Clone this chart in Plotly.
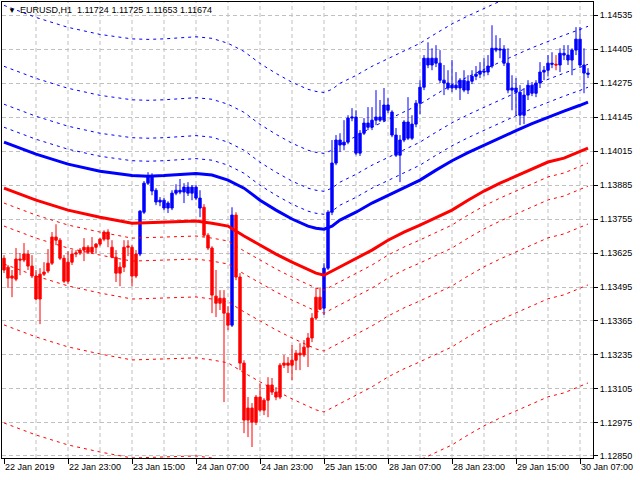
import plotly.graph_objects as go

# ---------------- data ----------------
BARS = list(range(147))

OPEN = [1.13605, 1.13571, 1.13529, 1.13525, 1.13602, 1.13598, 1.13621, 1.13575, 1.13537, 1.13449,
        1.13544, 1.13556, 1.13586, 1.13686, 1.13674, 1.13605, 1.13517, 1.13590, 1.13621, 1.13625,
        1.13636, 1.13647, 1.13628, 1.13647, 1.13659, 1.13678, 1.13705, 1.13647, 1.13609, 1.13548,
        1.13571, 1.13647, 1.13647, 1.13537, 1.13621, 1.13781, 1.13892, 1.13919, 1.13865, 1.13820,
        1.13827, 1.13797, 1.13797, 1.13854, 1.13865, 1.13858, 1.13877, 1.13854, 1.13877, 1.13835,
        1.13800, 1.13693, 1.13644, 1.13460, 1.13433, 1.13452, 1.13395, 1.13349, 1.13770, 1.13533,
        1.13204, 1.12986, 1.13032, 1.12978, 1.13074, 1.13024, 1.13062, 1.13120, 1.13093, 1.13074,
        1.13196, 1.13204, 1.13196, 1.13215, 1.13242, 1.13235, 1.13265, 1.13300, 1.13376, 1.13456,
        1.13414, 1.13567, 1.13781, 1.13969, 1.14057, 1.14038, 1.14049, 1.14141, 1.14145, 1.14007,
        1.14083, 1.14122, 1.14106, 1.14133, 1.14145, 1.14133, 1.14191, 1.14164, 1.14076, 1.13999,
        1.14057, 1.14126, 1.14064, 1.14118, 1.14198, 1.14259, 1.14370, 1.14344, 1.14370, 1.14351,
        1.14286, 1.14275, 1.14256, 1.14267, 1.14256, 1.14286, 1.14248, 1.14282, 1.14301, 1.14309,
        1.14321, 1.14317, 1.14340, 1.14408, 1.14401, 1.14405, 1.14351, 1.14248, 1.14256, 1.14240,
        1.14152, 1.14229, 1.14267, 1.14236, 1.14275, 1.14317, 1.14324, 1.14351, 1.14347, 1.14344,
        1.14389, 1.14382, 1.14363, 1.14401, 1.14443, 1.14344, 1.14313]

HIGH = [1.13617, 1.13579, 1.13560, 1.13644, 1.13625, 1.13663, 1.13636, 1.13617, 1.13560, 1.13567,
        1.13590, 1.13640, 1.13705, 1.13735, 1.13682, 1.13617, 1.13632, 1.13636, 1.13636, 1.13644,
        1.13682, 1.13655, 1.13686, 1.13663, 1.13682, 1.13712, 1.13716, 1.13674, 1.13636, 1.13590,
        1.13674, 1.13674, 1.13655, 1.13636, 1.13789, 1.13900, 1.13934, 1.13930, 1.13873, 1.13839,
        1.13835, 1.13823, 1.13865, 1.13888, 1.13908, 1.13892, 1.13896, 1.13885, 1.13885, 1.13865,
        1.13812, 1.13701, 1.13651, 1.13560, 1.13483, 1.13483, 1.13422, 1.13800, 1.13781, 1.13548,
        1.13215, 1.13074, 1.13051, 1.13082, 1.13127, 1.13070, 1.13150, 1.13147, 1.13112, 1.13204,
        1.13235, 1.13227, 1.13273, 1.13254, 1.13280, 1.13292, 1.13319, 1.13395, 1.13491, 1.13491,
        1.13586, 1.13789, 1.14057, 1.14076, 1.14083, 1.14133, 1.14152, 1.14179, 1.14171, 1.14095,
        1.14141, 1.14183, 1.14183, 1.14248, 1.14210, 1.14256, 1.14217, 1.14171, 1.14103, 1.14076,
        1.14133, 1.14221, 1.14152, 1.14210, 1.14286, 1.14382, 1.14431, 1.14408, 1.14420, 1.14401,
        1.14344, 1.14324, 1.14363, 1.14317, 1.14294, 1.14324, 1.14305, 1.14324, 1.14340, 1.14355,
        1.14370, 1.14382, 1.14496, 1.14458, 1.14447, 1.14420, 1.14408, 1.14305, 1.14294, 1.14267,
        1.14256, 1.14286, 1.14279, 1.14286, 1.14355, 1.14340, 1.14382, 1.14393, 1.14382, 1.14408,
        1.14420, 1.14420, 1.14408, 1.14489, 1.14489, 1.14408, 1.14332]

LOW = [1.13548, 1.13491, 1.13456, 1.13517, 1.13540, 1.13590, 1.13560, 1.13529, 1.13445, 1.13353,
       1.13537, 1.13548, 1.13579, 1.13655, 1.13598, 1.13510, 1.13506, 1.13579, 1.13609, 1.13617,
       1.13594, 1.13621, 1.13621, 1.13625, 1.13651, 1.13670, 1.13647, 1.13605, 1.13514, 1.13498,
       1.13552, 1.13613, 1.13498, 1.13529, 1.13613, 1.13774, 1.13885, 1.13846, 1.13808, 1.13804,
       1.13789, 1.13778, 1.13789, 1.13846, 1.13850, 1.13816, 1.13843, 1.13827, 1.13827, 1.13762,
       1.13686, 1.13636, 1.13395, 1.13380, 1.13407, 1.13055, 1.13330, 1.13342, 1.13521, 1.13177,
       1.12936, 1.12921, 1.12883, 1.12967, 1.13017, 1.13005, 1.12997, 1.13082, 1.13062, 1.13066,
       1.13185, 1.13166, 1.13139, 1.13177, 1.13177, 1.13227, 1.13189, 1.13284, 1.13368, 1.13407,
       1.13388, 1.13560, 1.13770, 1.13961, 1.14011, 1.14018, 1.14041, 1.14129, 1.13999, 1.13996,
       1.14076, 1.14095, 1.14095, 1.14114, 1.14126, 1.14126, 1.14160, 1.14068, 1.13992, 1.13896,
       1.14049, 1.14057, 1.14057, 1.14106, 1.14156, 1.14248, 1.14332, 1.14324, 1.14336, 1.14275,
       1.14229, 1.14248, 1.14240, 1.14248, 1.14210, 1.14240, 1.14233, 1.14271, 1.14286, 1.14294,
       1.14301, 1.14305, 1.14332, 1.14393, 1.14370, 1.14340, 1.14236, 1.14171, 1.14152, 1.14114,
       1.14118, 1.14210, 1.14225, 1.14221, 1.14256, 1.14286, 1.14301, 1.14332, 1.14324, 1.14317,
       1.14363, 1.14344, 1.14305, 1.14382, 1.14336, 1.14236, 1.14294]

CLOSE = [1.13560, 1.13529, 1.13537, 1.13602, 1.13598, 1.13621, 1.13575, 1.13537, 1.13449, 1.13544,
         1.13552, 1.13586, 1.13686, 1.13674, 1.13605, 1.13517, 1.13590, 1.13621, 1.13625, 1.13636,
         1.13647, 1.13628, 1.13647, 1.13659, 1.13678, 1.13705, 1.13678, 1.13609, 1.13548, 1.13571,
         1.13647, 1.13651, 1.13537, 1.13621, 1.13785, 1.13892, 1.13919, 1.13862, 1.13820, 1.13827,
         1.13797, 1.13816, 1.13854, 1.13865, 1.13858, 1.13877, 1.13854, 1.13877, 1.13835, 1.13797,
         1.13693, 1.13644, 1.13464, 1.13433, 1.13452, 1.13395, 1.13349, 1.13770, 1.13533, 1.13204,
         1.12986, 1.13032, 1.12978, 1.13074, 1.13024, 1.13062, 1.13120, 1.13093, 1.13074, 1.13196,
         1.13204, 1.13196, 1.13215, 1.13242, 1.13235, 1.13265, 1.13300, 1.13376, 1.13456, 1.13410,
         1.13567, 1.13781, 1.13969, 1.14057, 1.14038, 1.14049, 1.14141, 1.14145, 1.14007, 1.14083,
         1.14122, 1.14106, 1.14133, 1.14145, 1.14133, 1.14191, 1.14171, 1.14076, 1.13999, 1.14057,
         1.14126, 1.14064, 1.14118, 1.14198, 1.14259, 1.14370, 1.14344, 1.14370, 1.14351, 1.14286,
         1.14275, 1.14256, 1.14267, 1.14256, 1.14286, 1.14248, 1.14282, 1.14301, 1.14309, 1.14321,
         1.14317, 1.14340, 1.14408, 1.14401, 1.14405, 1.14351, 1.14248, 1.14256, 1.14240, 1.14152,
         1.14229, 1.14267, 1.14236, 1.14275, 1.14317, 1.14324, 1.14351, 1.14347, 1.14344, 1.14389,
         1.14382, 1.14363, 1.14401, 1.14443, 1.14344, 1.14313, 1.14309]

# trend colouring of the bars (runs of "dn" = red, "up" = blue)
TREND_RUNS = [("dn", 34), ("up", 16), ("dn", 7), ("up", 1), ("dn", 22),
              ("up", 58), ("dn", 1), ("up", 8)]
TREND = [t for t, n in TREND_RUNS for _ in range(n)]

# moving averages, read at selected bars
MA_BARS = [0, 8, 16, 24, 32, 36, 40, 48, 52, 56, 60, 64, 68, 72, 76, 78, 80, 82, 84,
           88, 92, 96, 100, 104, 108, 112, 116, 120, 124, 128, 132, 136, 140, 144, 146]
BLUE_MA = [1.14049, 1.14003, 1.13965, 1.13938, 1.13921, 1.13919, 1.13921, 1.13929, 1.13923,
           1.13904, 1.13873, 1.13827, 1.13789, 1.13755, 1.13728, 1.13720, 1.13716, 1.13728,
           1.13751, 1.13781, 1.13816, 1.13846, 1.13873, 1.13904, 1.13942, 1.13978, 1.14009,
           1.14038, 1.14066, 1.14093, 1.14120, 1.14145, 1.14168, 1.14190, 1.14202]
RED_MA = [1.13873, 1.13827, 1.13789, 1.13762, 1.13739, 1.13741, 1.13743, 1.13747, 1.13739,
          1.13728, 1.13690, 1.13655, 1.13621, 1.13590, 1.13560, 1.13548, 1.13540, 1.13556,
          1.13571, 1.13602, 1.13636, 1.13674, 1.13705, 1.13732, 1.13762, 1.13789, 1.13827,
          1.13862, 1.13892, 1.13919, 1.13946, 1.13973, 1.13988, 1.14015, 1.14026]
# envelope distances (price) of the dotted levels
ENVELOPE_OFFSETS = [0.00057, 0.00145, 0.00290, 0.00523, 0.00898]

LABEL_BARS = [0, 16, 32, 48, 64, 80, 96, 112, 128, 144]
TIME_LABELS = ["22 Jan 2019", "22 Jan 23:00", "23 Jan 15:00", "24 Jan 07:00", "24 Jan 23:00",
               "25 Jan 15:00", "28 Jan 07:00", "28 Jan 23:00", "29 Jan 15:00", "30 Jan 07:00"]
GRID_BARS = [8, 16, 24, 32, 40, 48, 56, 64, 72, 80, 88, 96, 104, 112, 120, 128, 136, 144]
PRICE_TICKS = [1.12850, 1.12975, 1.13105, 1.13235, 1.13365, 1.13495, 1.13625, 1.13755,
               1.13885, 1.14015, 1.14145, 1.14275, 1.14405, 1.14535]

HEADER = "EURUSD,H1\u00a0\u00a01.11724 1.11725 1.11653 1.11674"

# ---------------- styling ----------------
BLUE = "#0000FF"
RED = "#FF0000"
GRID = "#C0C0C0"
FONT = dict(family="Liberation Sans, Arial, sans-serif", size=9, color="#000000")

fig = go.Figure()

# envelope levels (dotted)
for ma, color, sign in [(BLUE_MA, BLUE, 1), (RED_MA, RED, -1)]:
    for off in ENVELOPE_OFFSETS:
        fig.add_trace(go.Scatter(
            x=MA_BARS, y=[v + sign * off for v in ma], mode="lines",
            line=dict(color=color, width=1, dash="3px,4px"),
            hoverinfo="skip", showlegend=False))

# moving averages (thick)
for ma, color in [(BLUE_MA, BLUE), (RED_MA, RED)]:
    fig.add_trace(go.Scatter(
        x=MA_BARS, y=ma, mode="lines", line=dict(color=color, width=3),
        hoverinfo="skip", showlegend=False))

# candles coloured by trend
for trend, color in [("dn", RED), ("up", BLUE)]:
    idx = [i for i in BARS if TREND[i] == trend]
    fig.add_trace(go.Candlestick(
        x=[BARS[i] for i in idx],
        open=[OPEN[i] for i in idx], high=[HIGH[i] for i in idx],
        low=[LOW[i] for i in idx], close=[CLOSE[i] for i in idx],
        increasing=dict(line=dict(color=color, width=1), fillcolor=color),
        decreasing=dict(line=dict(color=color, width=1), fillcolor=color),
        whiskerwidth=0, hoverinfo="skip", showlegend=False))

# vertical dotted grid
for b in GRID_BARS:
    fig.add_shape(type="line", xref="x", yref="paper", x0=b, x1=b, y0=0, y1=1,
                  line=dict(color=GRID, width=1, dash="4px,3px"), layer="below")

fig.update_layout(
    width=640, height=480,
    margin=dict(l=2, r=47, t=2, b=22),
    paper_bgcolor="white", plot_bgcolor="white",
    showlegend=False, font=FONT,
    boxgap=0.4, boxgroupgap=0,
)
fig.update_xaxes(
    range=[-0.5, 147.25], tickmode="array", tickvals=LABEL_BARS, ticktext=TIME_LABELS,
    ticks="outside", ticklen=5, tickcolor="#000000", tickwidth=1,
    ticklabelposition="outside right", tickfont=FONT,
    showgrid=False, zeroline=False,
    showline=True, linecolor="#000000", linewidth=1, mirror=True,
    rangeslider=dict(visible=False), fixedrange=True,
)
fig.update_yaxes(
    side="right", range=[1.12841, 1.14585], tickmode="array", tickvals=PRICE_TICKS,
    ticktext=[f"{v:.5f}" for v in PRICE_TICKS],
    ticks="outside", ticklen=4, tickcolor="#000000", tickwidth=1, tickfont=FONT,
    showgrid=True, gridcolor=GRID, gridwidth=1, griddash="4px,3px",
    zeroline=False, showline=True, linecolor="#000000", linewidth=1, mirror=True,
    fixedrange=True,
)

# header text
fig.add_annotation(xref="paper", yref="paper", x=4 / 591, y=1 - 8 / 456,
                   xanchor="left", yanchor="middle", text="\u25BC", showarrow=False,
                   font=dict(family=FONT["family"], size=8, color="#000000"))
fig.add_annotation(xref="paper", yref="paper", x=16 / 591, y=1 - 8 / 456,
                   xanchor="left", yanchor="middle", text=HEADER, showarrow=False,
                   font=FONT)

fig.write_html("out.html", config={"displayModeBar": False},
               post_script="document.body.style.margin='0';document.body.style.padding='0';")
